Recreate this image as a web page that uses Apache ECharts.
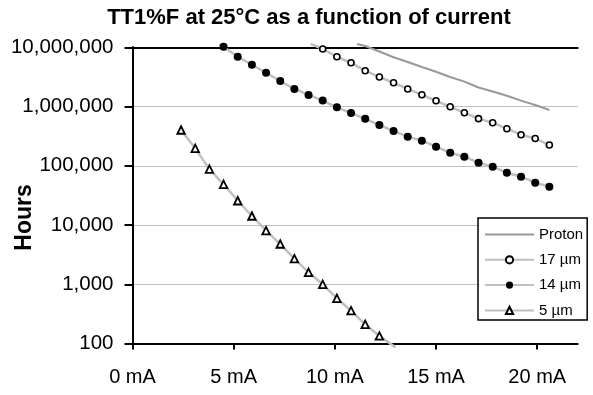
<!DOCTYPE html>
<html>
<head>
<meta charset="utf-8">
<script src="https://cdn.jsdelivr.net/npm/echarts@6/dist/echarts.min.js"></script>
<style>html,body{margin:0;padding:0;background:#fff}#c{width:593px;height:395px}</style>
</head>
<body>
<div id="c"></div>
<script>
var titleText = 'TT1%F at 25°C as a function of current';
var yAxisName = 'Hours';
var seriesNames = ['Proton', '17 µm', '14 µm', '5 µm'];
var xTickValues = [0, 5, 10, 15, 20];

var currentProton = [11.1, 11.5, 12.2, 12.9, 13.6, 14.3, 15.0, 15.7, 16.4, 17.1, 17.8, 18.5, 19.2, 19.9, 20.6];
var hoursProton = [11400000, 10500000, 8490000, 6780000, 5650000, 4650000, 3860000, 3150000, 2630000, 2100000, 1790000, 1520000, 1260000, 1060000, 875000];

var lead17 = [8.8, 11400000];
var current17 = [9.4, 10.1, 10.8, 11.5, 12.2, 12.9, 13.6, 14.3, 15.0, 15.7, 16.4, 17.1, 17.8, 18.5, 19.2, 19.9, 20.6];
var hours17 = [9360000, 6930000, 5470000, 4030000, 3150000, 2520000, 1980000, 1580000, 1250000, 990000, 785000, 624000, 532000, 423000, 335000, 289000, 224000];

var lead14 = [4.3, 11400000];
var current14 = [4.5, 5.2, 5.9, 6.6, 7.3, 8.0, 8.7, 9.4, 10.1, 10.8, 11.5, 12.2, 12.9, 13.6, 14.3, 15.0, 15.7, 16.4, 17.1, 17.8, 18.5, 19.2, 19.9, 20.6];
var hours14 = [10200000, 6930000, 5080000, 3720000, 2700000, 1980000, 1570000, 1260000, 971000, 779000, 620000, 488000, 386000, 310000, 265000, 210000, 166000, 142000, 113000, 96400, 76400, 65400, 51800, 44400];

var current5 = [2.4, 3.1, 3.8, 4.5, 5.2, 5.9, 6.6, 7.3, 8.0, 8.7, 9.4, 10.1, 10.8, 11.5, 12.2];
var hours5 = [402000, 197000, 87900, 48700, 25700, 14200, 8020, 4780, 2700, 1590, 998, 579, 358, 211, 134];
var trail5 = [13.0, 86];

function pairs(xs, ys) { return xs.map(function (x, i) { return [x, ys[i]]; }); }
function hidden(p) { return { value: p, symbol: 'none' }; }

var FONT = 'Liberation Sans, Arial, sans-serif';
var frameLine = { show: true, lineStyle: { color: '#000', width: 2 } };
var chart = echarts.init(document.getElementById('c'), null, { renderer: 'canvas' });
chart.setOption({
  animation: false,
  backgroundColor: '#fff',
  grid: { left: 132.5, right: 15.3, top: 47.3, bottom: 51.5, show: false },
  xAxis: [{
    type: 'value', min: 0, max: 22, interval: 5,
    axisLine: frameLine,
    axisTick: { show: true, inside: false, length: 6, lineStyle: { color: '#000', width: 2 } },
    splitLine: { show: false },
    axisLabel: {
      margin: 24, color: '#000', fontSize: 20, fontFamily: FONT, showMaxLabel: false,
      formatter: function (v) { return xTickValues.indexOf(v) >= 0 ? v + ' mA' : ''; }
    }
  }, {
    type: 'value', position: 'top', min: 0, max: 22,
    axisLine: frameLine, axisTick: { show: false }, axisLabel: { show: false }, splitLine: { show: false }
  }],
  yAxis: [{
    type: 'log', logBase: 10, min: 100, max: 10000000,
    axisLine: frameLine,
    axisTick: { show: true, inside: false, length: 8, lineStyle: { color: '#000', width: 2 } },
    splitLine: { show: true, lineStyle: { color: '#c0c0c0', width: 1 } },
    minorTick: { show: false },
    axisLabel: {
      margin: 19, color: '#000', fontSize: 20.5, fontFamily: FONT,
      formatter: function (v) { return Math.round(v).toLocaleString('en-US'); }
    }
  }, {
    type: 'log', logBase: 10, min: 100, max: 10000000, position: 'right',
    axisLine: frameLine, axisTick: { show: false }, axisLabel: { show: false }, splitLine: { show: false }
  }],
  legend: {
    orient: 'vertical', left: 478, top: 218,
    itemWidth: 49, itemHeight: 9, itemGap: 10.3,
    padding: [9, 4, 2, 6],
    borderColor: '#000', borderWidth: 1.5, backgroundColor: '#fff',
    textStyle: { color: '#000', fontSize: 15, fontFamily: FONT, lineHeight: 15 },
    data: [
      { name: seriesNames[0], itemStyle: { opacity: 0 } },
      seriesNames[1], seriesNames[2], seriesNames[3]
    ],
    z: 10
  },
  graphic: [
    { type: 'text', x: 309, y: 18.4, style: { text: titleText, font: 'bold 22px ' + FONT, fill: '#000', align: 'center', verticalAlign: 'middle' } },
    { type: 'text', x: 24.5, y: 217.5, rotation: Math.PI / 2, style: { text: yAxisName, font: 'bold 23px ' + FONT, fill: '#000', align: 'center', verticalAlign: 'middle' } }
  ],
  series: [
    {
      name: seriesNames[0], type: 'line', clip: false, symbol: 'none', showSymbol: false,
      lineStyle: { color: '#999999', width: 2 }, itemStyle: { color: '#999999' },
      data: pairs(currentProton, hoursProton), z: 2
    },
    {
      name: seriesNames[1], type: 'line', clip: false, symbol: 'circle', symbolSize: 6,
      lineStyle: { color: '#c0c0c0', width: 2.5 },
      itemStyle: { color: '#fff', borderColor: '#000', borderWidth: 1.6 },
      data: [hidden(lead17)].concat(pairs(current17, hours17)), z: 3
    },
    {
      name: seriesNames[2], type: 'line', clip: false, symbol: 'circle', symbolSize: 8,
      lineStyle: { color: '#c0c0c0', width: 2.5 },
      itemStyle: { color: '#000', borderWidth: 0 },
      data: [hidden(lead14)].concat(pairs(current14, hours14)), z: 3
    },
    {
      name: seriesNames[3], type: 'line', clip: false, symbol: 'triangle', symbolSize: 7.5,
      lineStyle: { color: '#c0c0c0', width: 2.5 },
      itemStyle: { color: '#fff', borderColor: '#000', borderWidth: 1.8 },
      data: pairs(current5, hours5).concat([hidden(trail5)]), z: 3
    }
  ]
});
</script>
</body>
</html>
